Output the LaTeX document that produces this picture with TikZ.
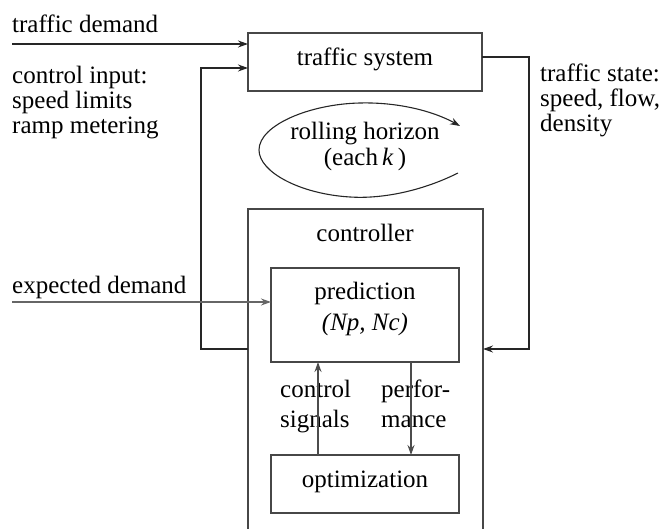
\documentclass[tikz,border=0pt]{standalone}
\usepackage{fontspec}
\setmainfont{Liberation Serif}
\usetikzlibrary{arrows.meta}
\begin{document}
\begin{tikzpicture}[x=1pt,y=-1pt,
  every node/.style={font=\fontsize{25}{29}\selectfont, inner sep=0pt, text height=0.7em, text depth=0.2em},
  box/.style={draw=black!72, line width=1.3pt},
  wire/.style={draw=black!85, line width=1.3pt},
  arr/.style={wire, -{Stealth[length=10pt,width=7pt]}},
  lbl/.style={anchor=west}]
\useasboundingbox (0,0) rectangle (664,529);

% plant
\draw[box] (248,33) rectangle (482,91);
\node (sys) at (365,63) {traffic system};
\coordinate (sysIn1) at (248,44);
\coordinate (sysIn2) at (248,68);
\coordinate (sysOut) at (482,57);

% controller (open at the bottom edge of the page)
\begin{scope}
\clip (0,0) rectangle (664,529);
\draw[box] (248,540) -- (248,209) -- (483,209) -- (483,540);
\end{scope}
\node (ctrl) at (365,239) {controller};
\coordinate (ctrlL) at (248,349);
\coordinate (ctrlR) at (483,349);

\draw[box] (271,268) rectangle (459,362);
\node (pred1) at (365,297) {prediction};
\node (pred2) at (365,328) {\itshape (Np, Nc)};

\draw[box] (271,455) rectangle (459,513);
\node (opt) at (365,485) {optimization};

% external labels
\node[lbl] (td) at (12,30) {traffic demand};
\coordinate (tdS) at (12,44);
\node[lbl] (ci1) at (12,81) {control input:};
\node[lbl] (ci2) at (12,106) {speed limits};
\node[lbl] (ci3) at (12,131) {ramp metering};
\node[lbl] (ts1) at (540,79) {traffic state:};
\node[lbl] (ts2) at (540,104) {speed, flow,};
\node[lbl] (ts3) at (540,129) {density};
\node[lbl] (ed) at (12,291) {expected demand};
\coordinate (edS) at (12,302);
\coordinate (predIn) at (271,302);

% rolling horizon
\node (rh1) at (365,137) {rolling horizon};
\node (rh2) at (365,163) {(each\,\itshape k\/\upshape\,)};
\draw[wire, line width=1.1pt, -{Stealth[length=10pt,width=7pt]}]
  (458,173) .. controls (420,192) and (380,199) .. (350,197)
  .. controls (300,194) and (259,172) .. (259,150)
  .. controls (259,125) and (310,104) .. (360,103)
  .. controls (400,102) and (435,112) .. (460,126);

% connections
\draw[arr] (tdS) -- (sysIn1);
\draw[arr] (ctrlL) -- (201,349) -- (201,68) -- (sysIn2);
\draw[arr] (sysOut) -- (529,57) -- (529,349) -- (ctrlR);
\draw[arr, draw=black!60] (edS) -- (predIn);

% inner signals
\node[anchor=west] (cs1) at (280,395) {control};
\node[anchor=west] (cs2) at (280,425) {signals};
\node[anchor=west] (pf1) at (381,395) {perfor-};
\node[anchor=west] (pf2) at (381,425) {mance};
\draw[arr, draw=black!70] (318,455) -- (318,362);
\draw[arr, draw=black!70] (411,362) -- (411,455);
\end{tikzpicture}
\end{document}
